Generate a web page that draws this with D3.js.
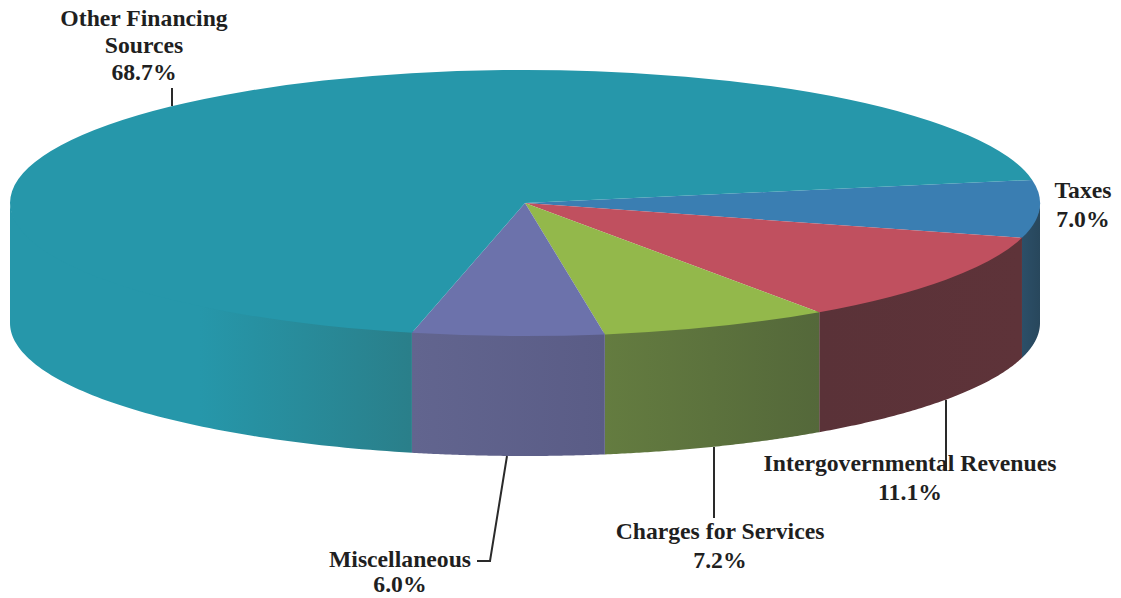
<!DOCTYPE html>
<html><head><meta charset="utf-8">
<style>html,body{margin:0;padding:0;background:#fff}svg{display:block}
text{font-family:"Liberation Serif",serif;font-weight:bold;font-size:23.7px;fill:#1f1f1f;text-anchor:middle}</style>
<script src="https://cdn.jsdelivr.net/npm/d3@7"></script></head><body>
<script>
const categories=["Taxes","Intergovernmental Revenues","Charges for Services","Miscellaneous","Other Financing Sources"];
const shares=[7.0,11.1,7.2,6.0,68.7];
const topColors=["#3a7eb2","#c0505f","#93b84b","#6c72ab","#2697aa"];
const wallStart=["#2c4f68","#5a3238","#647c40","#62658f","#2697aa"];
const wallEnd=["#28475c","#5e3339","#54683a","#5a5c86","#2a7f8a"];
const W=1121,H=598,cx=525,cy=203,rx=515,ry=133,depth=120;
const startDeg=80;
const svg=d3.select("body").append("svg").attr("width",W).attr("height",H);
const defs=svg.append("defs");
const pie=d3.pie().sort(null).startAngle(startDeg*Math.PI/180).endAngle((startDeg+360)*Math.PI/180);
const arcs=pie(shares);
const R=100;
const arc=d3.arc().innerRadius(0).outerRadius(R);
const px=a=>cx+rx*Math.sin(a), py=a=>cy-ry*Math.cos(a);
// walls
const walls=svg.append("g");
arcs.forEach((d,i)=>{
  const a0=Math.max(d.startAngle,Math.PI/2),a1=Math.min(d.endAngle,Math.PI*1.5);
  if(a1<=a0)return;
  const id="w"+i;
  const x0=px(a0),x1=px(a1);
  const g=defs.append("linearGradient").attr("id",id).attr("gradientUnits","userSpaceOnUse")
    .attr("x1",i===4?200:x1).attr("x2",i===4?410:x0).attr("y1",0).attr("y2",0);
  g.append("stop").attr("offset",0).attr("stop-color",wallStart[i]);
  g.append("stop").attr("offset",1).attr("stop-color",wallEnd[i]);
  const n=80,as=d3.range(n+1).map(k=>a0+(a1-a0)*k/n);
  const pts=as.map(a=>[px(a),py(a)-2]).concat(as.slice().reverse().map(a=>[px(a),py(a)+depth]));
  walls.append("path").attr("d",d3.line()(pts)+"Z").attr("fill",`url(#${id})`);
});
// top face
const topFace=svg.append("g").attr("transform",`translate(${cx},${cy}) scale(${rx/R},${ry/R})`);
topFace.selectAll("path").data(arcs).join("path").attr("d",arc).attr("fill",(d,i)=>topColors[i]);
// leaders
const leaders=[[[172,88],[172,106]],[[946,400],[946,470]],[[714,447],[714,518]],[[507,456],[490,561],[477,561]]];
svg.append("g").selectAll("path").data(leaders).join("path").attr("d",d=>d3.line()(d))
  .attr("fill","none").attr("stroke","#2a2a2a").attr("stroke-width",2);
// labels
const labelLines=[
 {x:1083,ys:[198,227],t:["Taxes","7.0%"]},
 {x:910,ys:[471,500],t:["Intergovernmental Revenues","11.1%"]},
 {x:720,ys:[539,568],t:["Charges for Services","7.2%"]},
 {x:400,ys:[567,592],t:["Miscellaneous","6.0%"]},
 {x:144,ys:[26,53,80],t:["Other Financing","Sources","68.7%"]}
];
const lg=svg.append("g");
labelLines.forEach(l=>l.t.forEach((s,i)=>lg.append("text").attr("x",l.x).attr("y",l.ys[i]).text(s)));
</script></body></html>
